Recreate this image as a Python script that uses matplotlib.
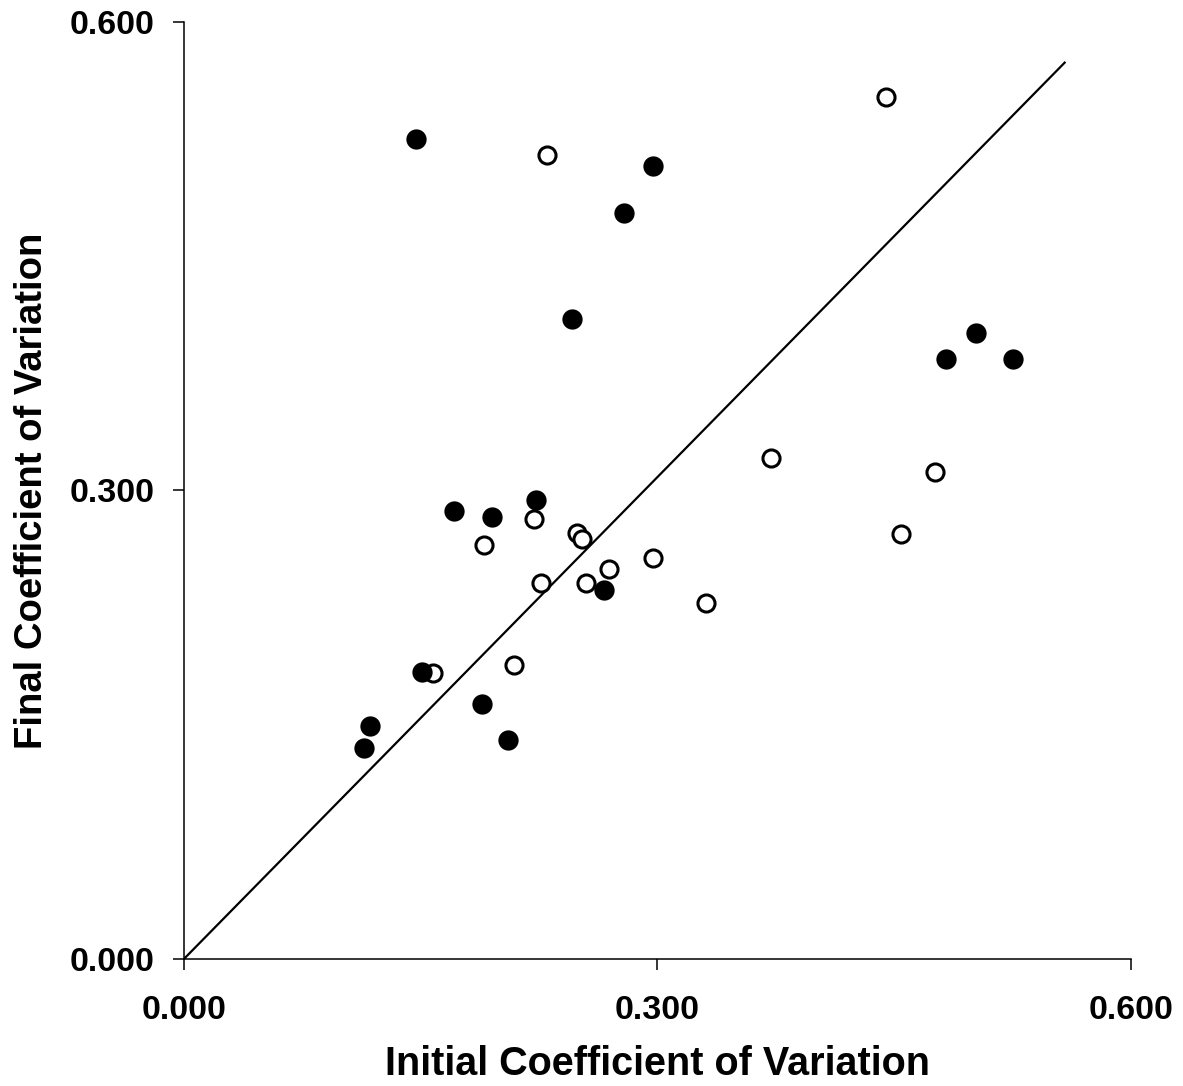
import matplotlib
matplotlib.use("Agg")
import matplotlib.pyplot as plt

plt.rcParams['font.family'] = ['Liberation Sans', 'DejaVu Sans']

# Filled circles
filled_x = [0.147, 0.297, 0.279, 0.246, 0.502, 0.483, 0.525, 0.223,
            0.171, 0.195, 0.266, 0.151, 0.118, 0.189, 0.114, 0.205]
filled_y = [0.525, 0.508, 0.478, 0.410, 0.401, 0.384, 0.384, 0.294,
            0.287, 0.283, 0.236, 0.184, 0.149, 0.163, 0.135, 0.140]

# Open circles
open_x = [0.445, 0.230, 0.372, 0.476, 0.222, 0.249, 0.252, 0.454,
          0.190, 0.297, 0.269, 0.226, 0.255, 0.331, 0.209, 0.158]
open_y = [0.552, 0.515, 0.321, 0.312, 0.282, 0.273, 0.269, 0.272,
          0.265, 0.257, 0.250, 0.241, 0.241, 0.228, 0.188, 0.183]

# Reference line
line_x = [0.0, 0.558]
line_y = [0.0, 0.574]

ticks = [0.0, 0.3, 0.6]
tick_labels = ["0.000", "0.300", "0.600"]

fig = plt.figure(figsize=(11.83, 10.86), dpi=100)
ax = fig.add_axes([0.1555, 0.117, 0.8005, 0.8627])

ax.plot(line_x, line_y, color='black', lw=1.6, zorder=2)
ax.plot(open_x, open_y, linestyle='none', marker='o', markersize=12.3,
        markerfacecolor='white', markeredgecolor='black',
        markeredgewidth=2.2, zorder=3)
ax.plot(filled_x, filled_y, linestyle='none', marker='o', markersize=14.6,
        markerfacecolor='black', markeredgecolor='black',
        markeredgewidth=0, zorder=4)

ax.set_xlim(0, 0.6)
ax.set_ylim(0, 0.6)
ax.set_xticks(ticks)
ax.set_xticklabels(tick_labels)
ax.set_yticks(ticks)
ax.set_yticklabels(tick_labels)

for side in ('top', 'right'):
    ax.spines[side].set_visible(False)
for side in ('left', 'bottom'):
    ax.spines[side].set_linewidth(1.1)

ax.tick_params(axis='both', direction='out', length=8, width=1.1,
               labelsize=24.5)
ax.tick_params(axis='x', pad=18)
ax.tick_params(axis='y', pad=13)
for lab in ax.get_xticklabels() + ax.get_yticklabels():
    lab.set_fontweight('bold')

ax.set_xlabel("Initial Coefficient of Variation", fontsize=28.5,
              fontweight='bold', labelpad=14)
ax.set_ylabel("Final Coefficient of Variation", fontsize=27.5,
              fontweight='bold', labelpad=14)

fig.savefig("out.png", dpi=100)
